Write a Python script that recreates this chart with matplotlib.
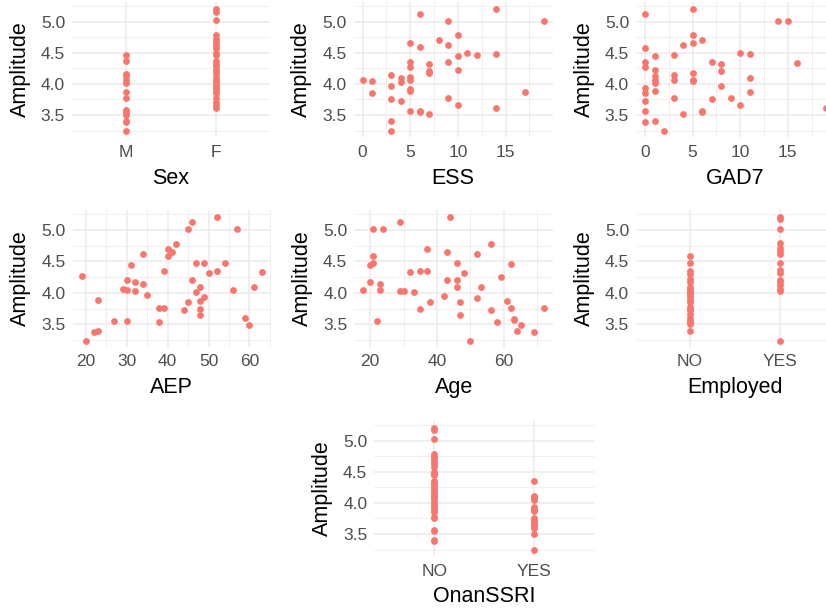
import matplotlib
matplotlib.use("Agg")
from matplotlib import pyplot as plt
from matplotlib.ticker import FixedLocator

plt.rcParams['font.family'] = ['Liberation Sans', 'DejaVu Sans']

W, H = 826, 610
POINT = '#F8766D'
GRID = '#EBEBEB'
TICK_GREY = '#4D4D4D'
DOT = 24

# Sex panel
sex_levels = ['M', 'F']
sex_m_amp = [4.46, 4.37, 4.16, 4.12, 4.06, 4.02, 3.87, 3.77, 3.58, 3.54,
             3.50, 3.40, 3.38, 3.25]
sex_f_amp = [5.21, 5.15, 5.03, 4.79, 4.73, 4.68, 4.63, 4.57, 4.49, 4.46,
             4.37, 4.32, 4.28, 4.22, 4.18, 4.11, 4.06, 4.01, 3.97, 3.93,
             3.89, 3.86, 3.77, 3.71, 3.66, 3.61]

# ESS panel
ess = [0, 1, 1, 3, 3, 3, 3, 3, 4, 4, 4, 5, 5, 5, 5, 5, 5, 5, 5, 6, 6, 6, 6,
       7, 7, 7, 7, 8, 9, 9, 9, 9, 10, 10, 10, 10, 11, 12, 14, 14, 14, 17, 19]
ess_amp = [4.06, 4.04, 3.86, 4.15, 3.97, 3.76, 3.40, 3.25, 4.10, 4.03, 3.73,
           4.66, 4.35, 4.27, 4.11, 4.06, 3.92, 3.88, 3.57, 5.12, 4.59, 3.56,
           3.54, 4.32, 4.20, 4.18, 3.51, 4.71, 5.01, 4.62, 4.35, 3.77, 4.79,
           4.45, 4.22, 3.66, 4.50, 4.47, 5.20, 4.48, 3.61, 3.87, 5.01]

# GAD7 panel
gad7 = [0, 0, 0, 0, 0, 0, 0, 0, 0, 1, 1, 1, 1, 1, 1, 1, 2, 3, 3, 3, 3, 4, 4,
        5, 5, 5, 5, 5, 5, 6, 6, 6, 7, 7, 8, 8, 8, 9, 10, 10, 11, 11, 11,
        14, 15, 16, 19]
gad7_amp = [5.12, 4.58, 4.36, 4.27, 3.93, 3.86, 3.72, 3.57, 3.39, 4.45,
            4.22, 4.12, 4.06, 4.02, 3.89, 3.41, 3.25, 4.47, 4.15, 4.06, 3.77,
            4.62, 3.51, 5.20, 4.78, 4.66, 4.18, 4.06, 4.04, 4.71, 3.56, 3.54,
            4.36, 3.76, 4.32, 4.20, 3.97, 3.77, 4.49, 3.66, 4.48, 4.09, 3.87,
            5.01, 5.01, 4.34, 3.61]

# AEP panel
aep = [19, 20, 22, 23, 23, 27, 30, 29, 30, 30, 31, 32, 32, 34, 34, 35, 38,
       39, 38, 39, 40, 41, 40, 42, 44, 45, 46, 45, 46, 47, 47, 48, 48, 48,
       48, 49, 49, 50, 52, 52, 54, 56, 57, 59, 60, 61, 63]
aep_amp = [4.27, 3.24, 3.38, 3.40, 3.88, 3.56, 3.56, 4.06, 4.04, 4.21, 4.45,
           4.18, 4.03, 4.62, 4.14, 3.96, 3.76, 3.76, 3.54, 4.35, 4.70, 4.65,
           4.58, 4.78, 3.72, 5.02, 5.12, 3.86, 4.20, 4.48, 4.02, 4.09, 3.87,
           3.75, 3.65, 3.93, 4.47, 4.31, 5.21, 4.35, 4.47, 4.05, 5.02, 3.60,
           3.49, 4.10, 4.33]

# Age panel
age = [18, 20, 20, 21, 21, 21, 24, 22, 23, 23, 29, 29, 30, 32, 33, 35, 35,
       37, 37, 38, 42, 43, 43, 44, 46, 46, 46, 47, 47, 48, 50, 52, 52, 53,
       56, 56, 58, 59, 61, 62, 62, 63, 63, 65, 64, 69, 72]
age_amp = [4.05, 4.18, 4.45, 4.47, 4.58, 5.01, 5.01, 3.56, 4.14, 4.05, 5.12,
           4.03, 4.03, 4.33, 4.01, 4.35, 3.75, 4.35, 4.70, 3.86, 3.95, 4.65,
           4.21, 5.21, 4.47, 4.20, 4.09, 3.85, 3.65, 4.31, 3.24, 4.62, 3.92,
           4.10, 4.78, 3.72, 3.54, 4.26, 3.87, 4.46, 3.76, 3.59, 3.57, 3.49,
           3.40, 3.38, 3.76]

# Employed panel
yes_no = ['NO', 'YES']
emp_no_amp = [4.59, 4.48, 4.34, 4.30, 4.22, 4.18, 4.10, 4.06, 4.03, 4.00,
              3.97, 3.93, 3.88, 3.86, 3.77, 3.75, 3.72, 3.66, 3.60, 3.56,
              3.54, 3.50, 3.40]
emp_yes_amp = [5.21, 5.17, 5.02, 4.79, 4.72, 4.66, 4.61, 4.47, 4.36, 4.32,
               4.21, 4.18, 4.12, 4.06, 4.03, 3.24]

# OnanSSRI panel
ssri_no_amp = [5.21, 5.17, 5.02, 4.79, 4.74, 4.70, 4.66, 4.62, 4.58, 4.50,
               4.47, 4.45, 4.36, 4.33, 4.31, 4.27, 4.22, 4.20, 4.18, 4.12,
               4.10, 4.06, 4.02, 3.97, 3.93, 3.88, 3.86, 3.77, 3.75, 3.57,
               3.54, 3.40, 3.38]
ssri_yes_amp = [4.36, 4.11, 4.08, 4.05, 3.93, 3.90, 3.87, 3.76, 3.73, 3.70,
                3.66, 3.62, 3.60, 3.50, 3.24]

fig = plt.figure(figsize=(W / 100, H / 100), dpi=100)


def make_axes(left, top, right, bottom):
    """Add axes from pixel edges of the panel."""
    return fig.add_axes([left / W, 1 - bottom / H,
                         (right - left) / W, (bottom - top) / H])


def style_axes(ax, xlabel, px_w, px_h):
    for s in ax.spines.values():
        s.set_visible(False)
    ax.set_ylim(3.146, 5.317)
    ax.yaxis.set_major_locator(FixedLocator([3.5, 4.0, 4.5, 5.0]))
    ax.yaxis.set_minor_locator(FixedLocator([3.25, 3.75, 4.25, 4.75, 5.25]))
    ax.set_yticklabels(['3.5', '4.0', '4.5', '5.0'])
    ax.grid(True, which='major', color=GRID, linewidth=1.1)
    ax.grid(True, which='minor', color=GRID, linewidth=0.55)
    ax.set_axisbelow(True)
    ax.tick_params(which='both', length=0, labelsize=12.5, colors=TICK_GREY)
    ax.tick_params(axis='x', pad=5.5)
    ax.tick_params(axis='y', pad=5)
    ax.set_xlabel(xlabel, fontsize=15.5)
    ax.set_ylabel('Amplitude', fontsize=15.5)
    ax.xaxis.label.set_va('center')
    ax.xaxis.set_label_coords(0.5, -41 / px_h)
    ax.yaxis.label.set_va('center')
    ax.yaxis.set_label_coords(-52 / px_w, 0.5)


def scatter_panel(box, x, y, xlabel, xlim, majors, minors):
    left, top, right, bottom = box
    ax = make_axes(left, top, right, bottom)
    ax.scatter(x, y, s=DOT, color=POINT, linewidths=0, zorder=3)
    ax.set_xlim(*xlim)
    ax.xaxis.set_major_locator(FixedLocator(majors))
    ax.xaxis.set_minor_locator(FixedLocator(minors))
    style_axes(ax, xlabel, right - left, bottom - top)
    return ax


def category_panel(box, groups, levels, xlabel):
    left, top, right, bottom = box
    ax = make_axes(left, top, right, bottom)
    for i, vals in enumerate(groups):
        ax.scatter([i + 1] * len(vals), vals, s=DOT, color=POINT,
                   linewidths=0, zorder=3)
    ax.set_xlim(0.4, 2.6)
    ax.set_xticks([1, 2])
    style_axes(ax, xlabel, right - left, bottom - top)
    ax.set_xticklabels(levels)
    ax.xaxis.set_minor_locator(FixedLocator([]))
    return ax


# row 1
category_panel((72, 2, 270, 137), [sex_m_amp, sex_f_amp], sex_levels, 'Sex')
scatter_panel((353.6, 2, 552.8, 137), ess, ess_amp, 'ESS', (-0.95, 19.95),
              [0, 5, 10, 15], [2.5, 7.5, 12.5, 17.5])
scatter_panel((636, 2, 835, 137), gad7, gad7_amp, 'GAD7', (-0.95, 19.95),
              [0, 5, 10, 15], [2.5, 7.5, 12.5, 17.5])

# row 2
scatter_panel((72.7, 210, 270.7, 346.6), aep, aep_amp, 'AEP', (16.8, 65.2),
              [20, 30, 40, 50, 60], [25, 35, 45, 55, 65])
scatter_panel((354.3, 210, 553.2, 346.6), age, age_amp, 'Age', (15.3, 74.7),
              [20, 40, 60], [30, 50, 70])
category_panel((636, 210, 834, 346.6), [emp_no_amp, emp_yes_amp], yes_no,
               'Employed')

# row 3
category_panel((374.3, 421, 594.3, 556), [ssri_no_amp, ssri_yes_amp], yes_no,
               'OnanSSRI')

fig.savefig('out.png', dpi=100)
